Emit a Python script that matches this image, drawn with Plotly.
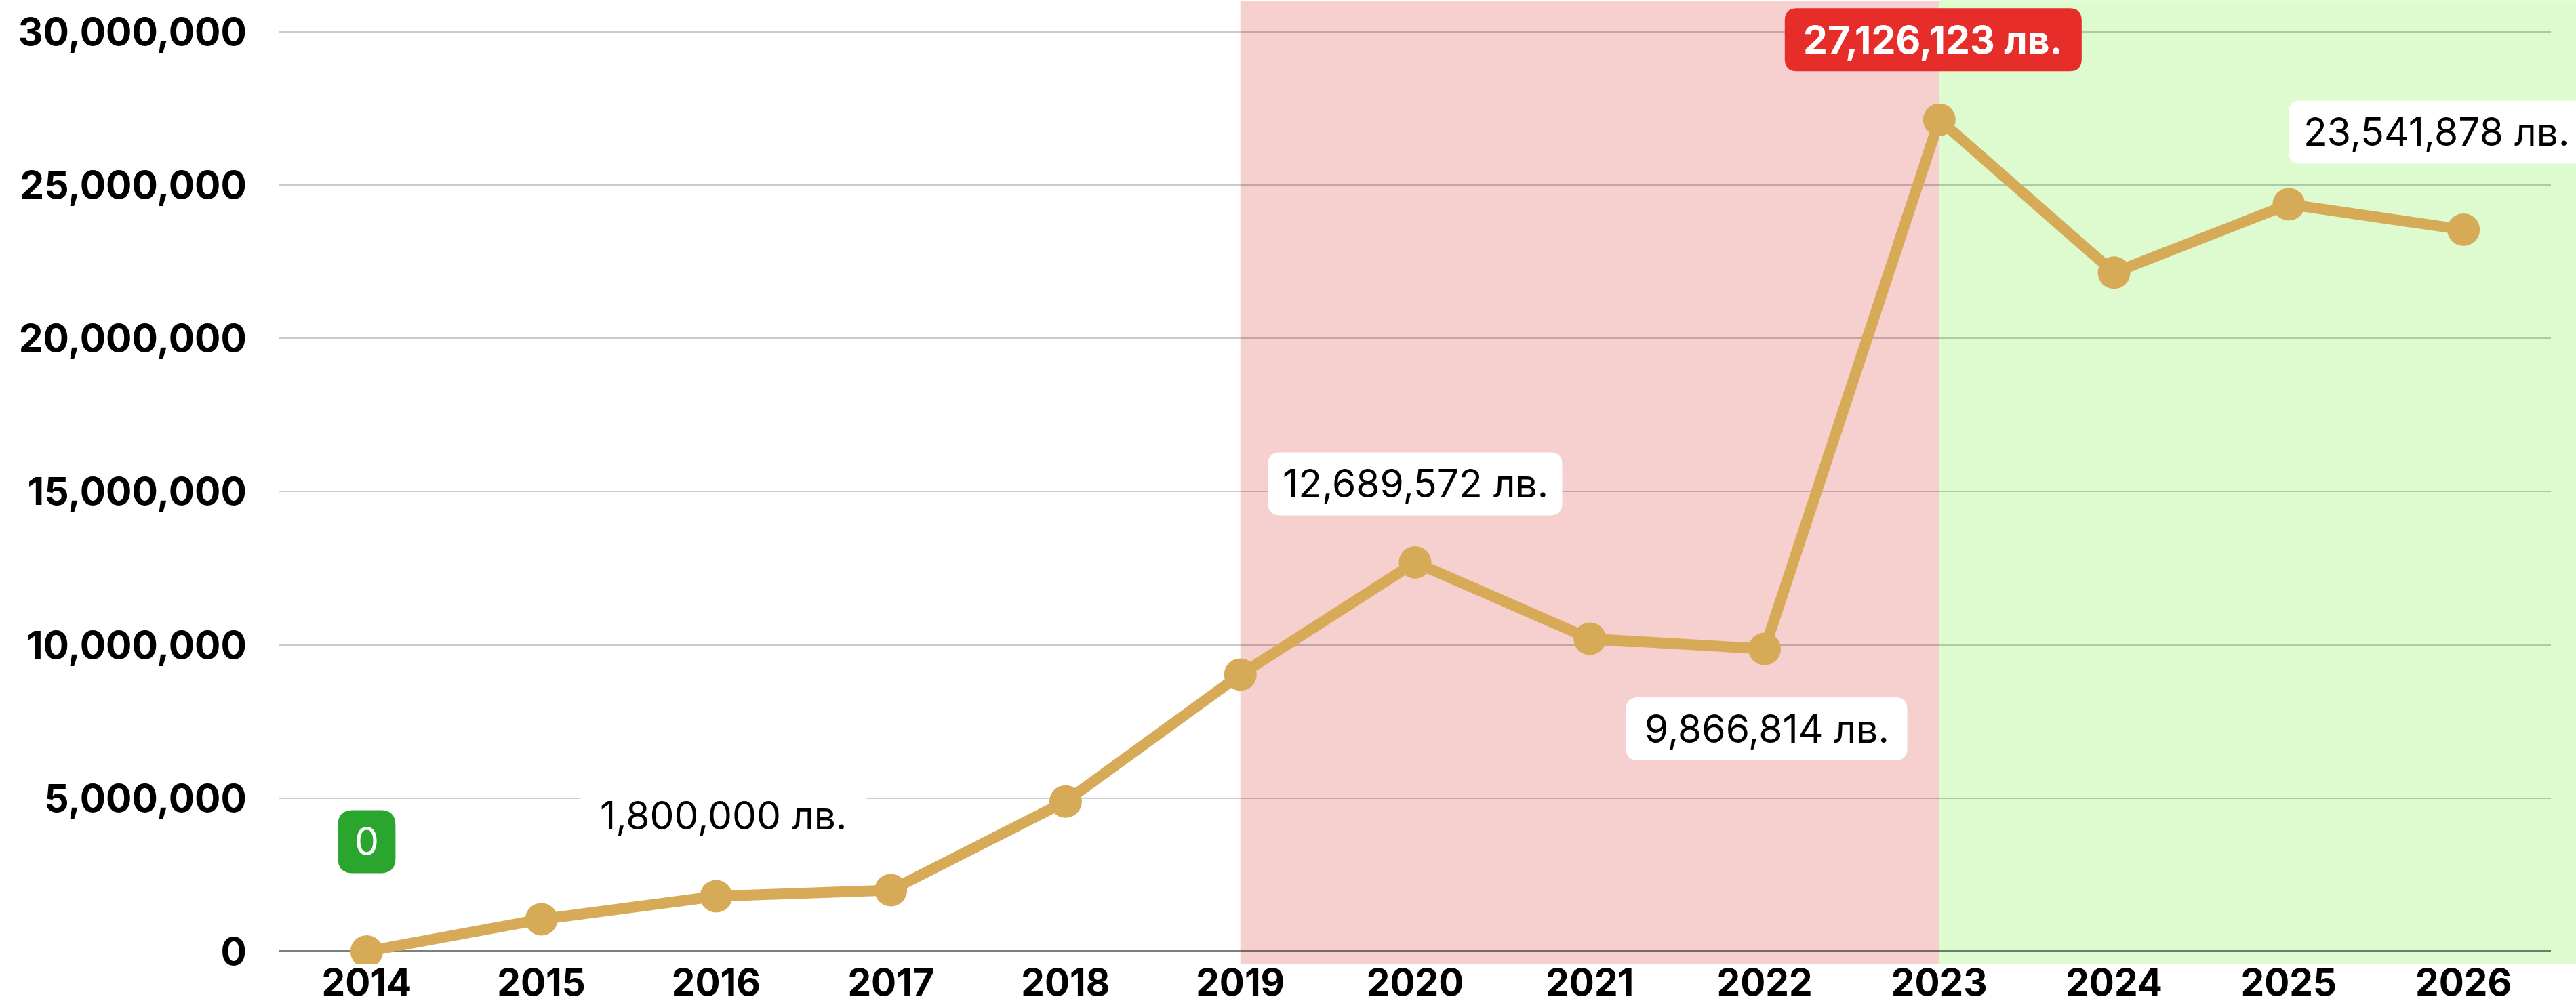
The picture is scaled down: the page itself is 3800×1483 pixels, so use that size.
import plotly.graph_objects as go

# ---- data ----
years = [2014, 2015, 2016, 2017, 2018, 2019, 2020, 2021, 2022, 2023, 2024, 2025, 2026]
values = [0, 1050000, 1800000, 2000000, 4890000, 9030000, 12689572, 10200000,
          9866814, 27126123, 22140000, 24370000, 23541878]
y_ticks = [0, 5000000, 10000000, 15000000, 20000000, 25000000, 30000000]

# labelled points
label_years = [2014, 2016, 2020, 2022, 2023, 2026]
pink_span = [2019, 2023]
green_start = 2023

# ---- styling ----
LINE = "#D7AA57"
PINK = "#F6CFCF"
GREEN = "#DDFBCF"
RED = "#E62D2A"
GREEN_LBL = "#2AA52D"
TICK_FONT = "Inter"
ANN_FONT = "Inter"

x_range = [2013.5, 2026.5]
y_range = [-398000, 30966000]

fig = go.Figure()
fig.add_trace(go.Scatter(
    x=years, y=values, mode="lines+markers",
    line=dict(color=LINE, width=16),
    marker=dict(color=LINE, size=48),
    hoverinfo="skip", showlegend=False,
))


def to_paper(xv):
    return (xv - x_range[0]) / (x_range[1] - x_range[0])


# background bands
fig.add_shape(type="rect", xref="paper", yref="paper",
              x0=to_paper(pink_span[0]), x1=to_paper(pink_span[1]), y0=0, y1=1.001,
              fillcolor=PINK, line_width=0, layer="below")
fig.add_shape(type="rect", xref="paper", yref="paper",
              x0=to_paper(green_start), x1=1.02, y0=0, y1=1.002,
              fillcolor=GREEN, line_width=0, layer="below")


def fmt(v):
    return f"{v:,} лв."


def rounded_path(cx, cy, w, h, r):
    x0, x1 = cx - w / 2, cx + w / 2
    y0, y1 = cy - h / 2, cy + h / 2
    return (f"M{x0 + r},{y0} L{x1 - r},{y0} Q{x1},{y0} {x1},{y0 + r} "
            f"L{x1},{y1 - r} Q{x1},{y1} {x1 - r},{y1} L{x0 + r},{y1} "
            f"Q{x0},{y1} {x0},{y1 - r} L{x0},{y0 + r} Q{x0},{y0} {x0 + r},{y0} Z")


ann_style = {
    2014: dict(text="0", bg=GREEN_LBL, color="white", w=85, h=93, r=22, xs=0, ys=162, bold=False),
    2016: dict(text=None, bg="white", color="black", w=422, h=93, r=18, xs=11, ys=119, bold=False),
    2020: dict(text=None, bg="white", color="black", w=434, h=93, r=18, xs=0, ys=116, bold=False),
    2022: dict(text=None, bg="white", color="black", w=415, h=93, r=18, xs=3, ys=-118, bold=False),
    2023: dict(text=None, bg=RED, color="white", w=438, h=93, r=18, xs=-9, ys=118, bold=True),
    2026: dict(text=None, bg="white", color="black", w=436, h=93, r=18, xs=-40, ys=144, bold=False),
}

for yr in label_years:
    v = values[years.index(yr)]
    s = ann_style[yr]
    # rounded label box, anchored at the data point, sized in pixels
    fig.add_shape(
        type="path", xref="paper", yref="y",
        xsizemode="pixel", ysizemode="pixel",
        xanchor=to_paper(yr), yanchor=v,
        path=rounded_path(s["xs"], s["ys"], s["w"], s["h"], s["r"]),
        fillcolor=s["bg"], line_width=0, layer="above",
    )
    txt = s["text"] if s["text"] is not None else fmt(v)
    if s["bold"]:
        txt = f"<b>{txt}</b>"
    fig.add_annotation(
        x=yr, y=v, xref="x", yref="y", text=txt, showarrow=False,
        xshift=s["xs"], yshift=s["ys"],
        align="center", valign="middle",
        font=dict(family=ANN_FONT, size=57, color=s["color"]),
    )

fig.update_layout(
    width=3800, height=1483,
    margin=dict(l=412, r=37, t=3, b=61, autoexpand=False),
    plot_bgcolor="white", paper_bgcolor="white",
    showlegend=False,
)
fig.update_xaxes(
    range=x_range, tickvals=years, ticktext=[str(y) for y in years],
    showgrid=False, zeroline=False, showline=False, ticks="",
    ticklabelstandoff=-9, automargin=False,
    tickfont=dict(family=TICK_FONT, size=55, color="black", weight="bold"),
)
fig.update_yaxes(
    range=y_range, tickvals=y_ticks, tickformat=",d",
    showgrid=True, gridcolor="rgba(0,0,0,0.2)", gridwidth=2,
    zeroline=True, zerolinecolor="rgba(0,0,0,0.5)", zerolinewidth=3,
    showline=False, ticks="", ticklabelstandoff=47, automargin=False,
    tickfont=dict(family=TICK_FONT, size=57, color="black", weight="bold"),
)

fig.write_html("out.html", config={"displayModeBar": False},
               post_script="document.body.style.margin='0';")
